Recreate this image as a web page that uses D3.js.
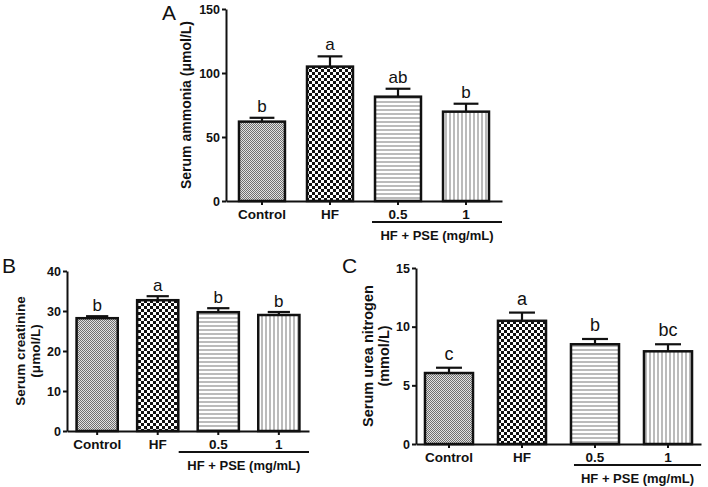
<!DOCTYPE html>
<html><head><meta charset="utf-8">
<script src="https://cdn.jsdelivr.net/npm/d3@7"></script>
<style>
html,body{margin:0;padding:0;background:#fff;}
svg text{font-family:"Liberation Sans", Arial, sans-serif;}
</style>
</head><body>
<svg id="chart" width="708" height="487"></svg>
<script>
// ---- data ----
const categories = ["Control", "HF", "0.5", "1"];
const ammoniaMean = [62, 105, 81.5, 69.8];
const ammoniaSem = [3, 8, 6.2, 6.2];
const ammoniaLetters = ["b", "a", "ab", "b"];
const ammoniaTicks = [0, 50, 100, 150];

const creatinineMean = [28.2, 32.7, 29.7, 29.0];
const creatinineSem = [0.5, 1.0, 1.0, 0.75];
const creatinineLetters = ["b", "a", "b", "b"];
const creatinineTicks = [0, 10, 20, 30, 40];

const ureaMean = [6.05, 10.5, 8.5, 7.9];
const ureaSem = [0.45, 0.7, 0.45, 0.6];
const ureaLetters = ["c", "a", "b", "bc"];
const ureaTicks = [0, 5, 10, 15];

const groupLabel = "HF + PSE (mg/mL)";
const panelLetters = ["A", "B", "C"];
const yTitles = [["Serum ammonia (μmol/L)"], ["Serum creatinine", "(μmol/L)"], ["Serum urea nitrogen", "(mmol/L)"]];

// ---- layout ----
const panels = [
  {mean: ammoniaMean, sem: ammoniaSem, letters: ammoniaLetters, ticks: ammoniaTicks, title: yTitles[0], letter: panelLetters[0],
   xr: [226, 502], pi: 0.324, po: 0.191, yr: [201, 9], ymax: 150,
   titleX: [191], titleFont: 14, letterPos: [162, 20], sigOff: 6, sigFont: 17, lineStart: -3},
  {mean: creatinineMean, sem: creatinineSem, letters: creatinineLetters, ticks: creatinineTicks, title: yTitles[1], letter: panelLetters[1],
   xr: [67, 309], pi: 0.32, po: 0.158, yr: [431, 271], ymax: 40,
   titleX: [25, 40], titleFont: 13.5, letterPos: [2, 273], sigOff: 5, sigFont: 17, lineStart: -19},
  {mean: ureaMean, sem: ureaSem, letters: ureaLetters, ticks: ureaTicks, title: yTitles[2], letter: panelLetters[2],
   xr: [416, 701], pi: 0.342, po: 0.123, yr: [444, 268], ymax: 15,
   titleX: [373, 389], titleFont: 14.5, letterPos: [342, 273], sigOff: 8, sigFont: 18, lineStart: 3}
];

const svg = d3.select("#chart");
const defs = svg.append("defs");

// patterns
const pCtrl = defs.append("pattern").attr("id", "p0").attr("patternUnits", "userSpaceOnUse").attr("width", 2).attr("height", 2);
pCtrl.append("rect").attr("width", 2).attr("height", 2).attr("fill", "#e2e2e2");
pCtrl.append("rect").attr("width", 1).attr("height", 1).attr("fill", "#707070");
pCtrl.append("rect").attr("x", 1).attr("y", 1).attr("width", 1).attr("height", 1).attr("fill", "#707070");

const pHF = defs.append("pattern").attr("id", "p1").attr("patternUnits", "userSpaceOnUse").attr("width", 6).attr("height", 6);
pHF.append("rect").attr("width", 6).attr("height", 6).attr("fill", "#fff");
pHF.append("rect").attr("width", 3).attr("height", 3).attr("fill", "#111");
pHF.append("rect").attr("x", 3).attr("y", 3).attr("width", 3).attr("height", 3).attr("fill", "#111");

const pH = defs.append("pattern").attr("id", "p2").attr("patternUnits", "userSpaceOnUse").attr("width", 4).attr("height", 4);
pH.append("rect").attr("width", 4).attr("height", 4).attr("fill", "#fff");
pH.append("rect").attr("y", 1.5).attr("width", 4).attr("height", 1).attr("fill", "#777");

const pV = defs.append("pattern").attr("id", "p3").attr("patternUnits", "userSpaceOnUse").attr("width", 4).attr("height", 4);
pV.append("rect").attr("width", 4).attr("height", 4).attr("fill", "#fff");
pV.append("rect").attr("x", 1.5).attr("width", 1).attr("height", 4).attr("fill", "#777");

const FONT = "Liberation Sans, Arial, sans-serif";

panels.forEach(p => {
  const g = svg.append("g");
  const x = d3.scaleBand().domain(categories).range(p.xr).paddingInner(p.pi).paddingOuter(p.po);
  const y = d3.scaleLinear().domain([0, p.ymax]).range(p.yr);
  const bw = x.bandwidth();
  const rows = categories.map((c, i) => ({c, i, m: p.mean[i], s: p.sem[i], l: p.letters[i]}));

  // error bars (upper only)
  const eb = g.selectAll(".eb").data(rows).enter().append("g");
  eb.append("line")
    .attr("x1", d => x(d.c) + bw / 2).attr("x2", d => x(d.c) + bw / 2)
    .attr("y1", d => y(d.m)).attr("y2", d => y(d.m + d.s))
    .attr("stroke", "#111").attr("stroke-width", 2.2);
  eb.append("line")
    .attr("x1", d => x(d.c) + bw / 2 - bw * 0.27).attr("x2", d => x(d.c) + bw / 2 + bw * 0.27)
    .attr("y1", d => y(d.m + d.s)).attr("y2", d => y(d.m + d.s))
    .attr("stroke", "#111").attr("stroke-width", 2.2);

  // bars
  g.selectAll(".bar").data(rows).enter().append("rect")
    .attr("x", d => x(d.c)).attr("width", bw)
    .attr("y", d => y(d.m)).attr("height", d => y(0) - y(d.m))
    .attr("fill", d => `url(#p${d.i})`)
    .attr("stroke", "#111").attr("stroke-width", 2.5);

  // significance letters
  g.selectAll(".sig").data(rows).enter().append("text")
    .attr("x", d => x(d.c) + bw / 2).attr("y", d => y(d.m + d.s) - p.sigOff)
    .attr("text-anchor", "middle").attr("font-size", p.sigFont).attr("fill", "#111")
    .text(d => d.l);

  // y axis
  const ya = g.append("g").attr("transform", `translate(${p.xr[0]},0)`)
    .call(d3.axisLeft(y).tickValues(p.ticks).tickSize(4).tickSizeOuter(0).tickPadding(2));
  ya.select(".domain").attr("stroke", "#111").attr("stroke-width", 2);
  ya.selectAll(".tick line").attr("stroke", "#111").attr("stroke-width", 2);
  ya.selectAll(".tick text").attr("font-size", 12.5).attr("font-weight", "bold").attr("fill", "#111")
    .attr("font-family", FONT);

  // x axis
  const xa = g.append("g").attr("transform", `translate(0,${y(0)})`)
    .call(d3.axisBottom(x).tickSize(4).tickSizeOuter(0).tickPadding(4));
  xa.select(".domain").attr("stroke", "#111").attr("stroke-width", 2);
  xa.selectAll(".tick line").attr("stroke", "#111").attr("stroke-width", 2);
  xa.selectAll(".tick text").attr("font-size", 13.5).attr("font-weight", "bold").attr("fill", "#111")
    .attr("font-family", FONT);

  // group line + label
  const lx1 = x("0.5") + p.lineStart, lx2 = p.xr[1];
  g.append("line").attr("x1", lx1).attr("x2", lx2).attr("y1", y(0) + 21).attr("y2", y(0) + 21)
    .attr("stroke", "#111").attr("stroke-width", 2);
  g.append("text").attr("x", (lx1 + lx2) / 2).attr("y", y(0) + 39)
    .attr("text-anchor", "middle").attr("font-size", 13).attr("font-weight", "bold").attr("fill", "#111")
    .text(groupLabel);

  // y title
  const cy = (p.yr[0] + p.yr[1]) / 2;
  p.title.forEach((t, k) => {
    g.append("text").attr("transform", `translate(${p.titleX[k]},${cy}) rotate(-90)`)
      .attr("text-anchor", "middle").attr("font-size", p.titleFont).attr("font-weight", "bold").attr("fill", "#111")
      .text(t);
  });

  // panel letter
  g.append("text").attr("x", p.letterPos[0]).attr("y", p.letterPos[1])
    .attr("font-size", 21).attr("fill", "#111").text(p.letter);
});
</script>
</body></html>
